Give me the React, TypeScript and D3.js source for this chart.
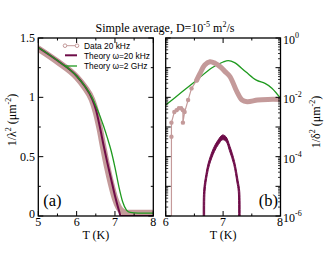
import React from 'react';
import * as d3 from 'd3';

// ---------- Panel (a): 1/lambda^2 vs T ----------
const aDataT = [5.0, 5.5, 6.0, 6.2, 6.4, 6.5, 6.6, 6.7, 6.8, 6.9, 7.0, 7.1, 7.2, 7.3, 8.0];
const aDataV = [1.41, 1.30, 1.17, 1.09, 0.98, 0.88, 0.74, 0.57, 0.41, 0.27, 0.15, 0.07, 0.035, 0.025, 0.025];

const aPurpleT = [5.0, 5.5, 6.0, 6.2, 6.4, 6.5, 6.6, 6.7, 6.8, 6.9, 7.0, 7.1, 7.15, 8.0];
const aPurpleV = [1.42, 1.31, 1.18, 1.10, 0.99, 0.90, 0.76, 0.60, 0.45, 0.31, 0.17, 0.05, 0.0, 0.0];

const aGreenT = [5.0, 5.5, 6.0, 6.2, 6.4, 6.5, 6.6, 6.7, 6.8, 6.9, 7.0, 7.1, 7.2, 7.3, 7.4, 7.6, 8.0];
const aGreenV = [1.42, 1.31, 1.18, 1.10, 1.0, 0.93, 0.85, 0.76, 0.66, 0.55, 0.41, 0.25, 0.12, 0.05, 0.03, 0.025, 0.025];

const aXTicks = [5, 6, 7, 8];
const aYTicks = [0, 0.5, 1, 1.5];
const aYTickLabels = ['0', '0.5', '1', '1.5'];

// ---------- Panel (b): 1/delta^2 vs T (log) ----------
const bSparseT = [6.10, 6.10, 6.10, 6.15, 6.19, 6.23, 6.27, 6.30, 6.30, 6.33, 6.39, 6.45, 6.54];
const bSparseV = [1e-7, 4.7e-4, 1.4e-3, 3.2e-3, 3.7e-3, 4.3e-3, 4.3e-3, 3.7e-3, 1.4e-3, 3.2e-3, 8.1e-3, 0.020, 0.038];

const bDenseT = [6.54, 6.60, 6.68, 6.77, 6.86, 6.95, 7.03, 7.12, 7.24, 7.33, 7.42, 7.6, 7.78, 8.0];
const bDenseV = [0.038, 0.065, 0.123, 0.158, 0.141, 0.107, 0.075, 0.050, 0.0155, 0.0081, 0.0071, 0.0081, 0.0085, 0.0085];

const bGreenT = [6.0, 6.27, 6.54, 6.8, 7.0, 7.09, 7.2, 7.4, 7.58, 7.73, 7.85, 8.0];
const bGreenV = [0.0055, 0.0145, 0.038, 0.098, 0.155, 0.174, 0.148, 0.071, 0.038, 0.0295, 0.0204, 0.0093];

const bArchOuterT = [6.66, 6.66, 6.70, 6.74, 6.83, 6.91, 6.99, 7.05, 7.12, 7.20, 7.26, 7.29, 7.29];
const bArchOuterV = [1e-7, 6.6e-6, 2.5e-5, 6.0e-5, 1.9e-4, 3.6e-4, 5.4e-4, 4.7e-4, 2.2e-4, 6.8e-5, 1.6e-5, 6.6e-6, 1e-7];
const bArchInnerT = [6.685, 6.685, 6.725, 6.765, 6.85, 6.92, 6.99, 7.05, 7.11, 7.185, 7.24, 7.265, 7.265];
const bArchInnerV = [1e-7, 6.6e-6, 2.5e-5, 5.5e-5, 1.5e-4, 2.6e-4, 3.7e-4, 3.3e-4, 1.6e-4, 5.5e-5, 1.4e-5, 6.6e-6, 1e-7];

const bXTicks = [6, 7, 8];
const bYLabelExps = [0, -2, -4, -6];

const legendLabels = ['Data 20 kHz', 'Theory \u03c9=20 kHz', 'Theory \u03c9=2 GHz'];

const PINK = '#c49a9a';
const PURPLE = '#6e0c48';
const GREEN = '#1f9a1f';
const serif: React.CSSProperties = { fontFamily: "'Liberation Serif', 'Times New Roman', Times, 'DejaVu Serif', serif" };
const sans: React.CSSProperties = { fontFamily: "'Liberation Sans', Arial, Helvetica, sans-serif" };

export default function App() {
  const top = 38, bottom = 216;
  const xa = d3.scaleLinear().domain([5, 8]).range([38.3, 153.3]);
  const ya = d3.scaleLinear().domain([0, 1.5]).range([bottom, top]);
  const xb = d3.scaleLinear().domain([6, 8]).range([165.7, 280.5]);
  const yb = d3.scaleLog().domain([1e-6, 1]).range([bottom, top]);

  const zip = (ts: number[], vs: number[]) => ts.map((t, i) => [t, vs[i]] as [number, number]);

  const lineA = d3.line<[number, number]>().x(d => xa(d[0])).y(d => ya(d[1])).curve(d3.curveMonotoneX);
  const lineB = d3.line<[number, number]>().x(d => xb(d[0])).y(d => yb(d[1])).curve(d3.curveCatmullRom.alpha(0.5));
  const lineBLin = d3.line<[number, number]>().x(d => xb(d[0])).y(d => yb(d[1]));

  const outer = lineB(zip(bArchOuterT, bArchOuterV)) || '';
  const inner = lineB(zip(bArchInnerT, bArchInnerV).reverse()) || '';
  const archPath = outer + 'L' + inner.slice(1) + 'Z';

  const aXMinor = d3.range(5, 8.01, 0.5);
  const aYMinor = d3.range(0, 1.51, 0.25);
  const bXMinor = d3.range(6, 8.01, 0.5);
  const bYMajor = d3.range(-6, 1).map(e => Math.pow(10, e));
  const bYMinor: number[] = [];
  for (let e = -6; e < 0; e++) for (let m = 2; m <= 9; m++) bYMinor.push(m * Math.pow(10, e));

  const tickLen = (major: boolean) => (major ? 5 : 2.5);
  const isInt = (v: number) => Math.abs(v - Math.round(v)) < 1e-6;
  const isHalf = (v: number) => Math.abs(v * 2 - Math.round(v * 2)) < 1e-6;

  return (
    <svg width={330} height={255} style={{ position: 'absolute', left: 0, top: 0, background: '#fff' }}>
      <defs>
        <clipPath id="clipA"><rect x={38.3} y={top} width={115} height={bottom - top} /></clipPath>
        <clipPath id="clipB"><rect x={165.7} y={top} width={114.8} height={bottom - top} /></clipPath>
      </defs>
      <rect x={0} y={0} width={330} height={255} fill="#fff" />

      <text x={165} y={31.5} textAnchor="middle" style={serif} fontSize={12}>
        Simple average, D=10<tspan dy={-5} fontSize={8}>-5</tspan><tspan dy={5}> m</tspan><tspan dy={-5} fontSize={8}>2</tspan><tspan dy={5}>/s</tspan>
      </text>

      {/* ----- Panel a ----- */}
      <g clipPath="url(#clipA)">
        <path d={lineA(zip(aDataT, aDataV)) || ''} fill="none" stroke={PINK} strokeWidth={6.5} strokeLinejoin="round" strokeLinecap="round" />
        <path d={lineA(zip(aPurpleT, aPurpleV)) || ''} fill="none" stroke={PURPLE} strokeWidth={2} />
        <path d={lineA(zip(aGreenT, aGreenV)) || ''} fill="none" stroke={GREEN} strokeWidth={1.3} />
      </g>
      {aXMinor.map((v, i) => {
        const L = tickLen(isInt(v));
        return (
          <g key={'axm' + i}>
            <line x1={xa(v)} x2={xa(v)} y1={bottom} y2={bottom - L} stroke="#000" strokeWidth={1} />
            <line x1={xa(v)} x2={xa(v)} y1={top} y2={top + L} stroke="#000" strokeWidth={1} />
          </g>
        );
      })}
      {aYMinor.map((v, i) => {
        const L = tickLen(isHalf(v));
        return (
          <g key={'aym' + i}>
            <line x1={38.3} x2={38.3 + L} y1={ya(v)} y2={ya(v)} stroke="#000" strokeWidth={1} />
            <line x1={153.3} x2={153.3 - L} y1={ya(v)} y2={ya(v)} stroke="#000" strokeWidth={1} />
          </g>
        );
      })}
      <rect x={38.3} y={top} width={115} height={bottom - top} fill="none" stroke="#000" strokeWidth={1.3} />
      {aXTicks.map(v => (
        <text key={'axl' + v} x={xa(v)} y={225.5} textAnchor="middle" style={serif} fontSize={12}>{v}</text>
      ))}
      {aYTicks.map((v, i) => (
        <text key={'ayl' + v} x={35} y={ya(v) + (v === 0 ? 2 : 4)} textAnchor="end" style={serif} fontSize={12}>{aYTickLabels[i]}</text>
      ))}
      <text x={95.8} y={239.3} textAnchor="middle" style={serif} fontSize={12}>T (K)</text>
      <text transform="translate(16,120) rotate(-90)" textAnchor="middle" style={serif} fontSize={12}>
        1/&#955;<tspan dy={-5} fontSize={8}>2</tspan><tspan dy={5}> (&#956;m</tspan><tspan dy={-5} fontSize={8}>-2</tspan><tspan dy={5}>)</tspan>
      </text>
      <text x={43.3} y={206} style={serif} fontSize={16.5}>(a)</text>

      <g>
        <line x1={65} x2={77} y1={45.7} y2={45.7} stroke={PINK} strokeWidth={1} />
        <circle cx={65} cy={45.7} r={1.8} fill="#fff" stroke={PINK} strokeWidth={1} />
        <circle cx={77} cy={45.7} r={1.8} fill="#fff" stroke={PINK} strokeWidth={1} />
        <line x1={65} x2={77} y1={55.3} y2={55.3} stroke={PURPLE} strokeWidth={2} />
        <line x1={65} x2={77} y1={66} y2={66} stroke={GREEN} strokeWidth={1.3} />
        {legendLabels.map((s, i) => (
          <text key={'lg' + i} x={84} y={48.5 + i * 10.4} style={sans} fontSize={8.4}>{s}</text>
        ))}
      </g>

      {/* ----- Panel b ----- */}
      <g clipPath="url(#clipB)">
        <path d={lineB(zip(bGreenT, bGreenV)) || ''} fill="none" stroke={GREEN} strokeWidth={1.3} />
        <path d={lineBLin(zip(bSparseT, bSparseV)) || ''} fill="none" stroke={PINK} strokeWidth={1.2} />
        {zip(bSparseT, bSparseV).slice(1).map((d, i) => (
          <circle key={'sp' + i} cx={xb(d[0])} cy={yb(d[1])} r={2.2} fill={PINK} />
        ))}
        <path d={lineB(zip(bDenseT, bDenseV)) || ''} fill="none" stroke={PINK} strokeWidth={5} strokeLinejoin="round" strokeLinecap="round" />
        <path d={archPath} fill={PURPLE} stroke={PURPLE} strokeWidth={1} />
      </g>
      {bXMinor.map((v, i) => {
        const L = tickLen(isInt(v));
        return (
          <g key={'bxm' + i}>
            <line x1={xb(v)} x2={xb(v)} y1={bottom} y2={bottom - L} stroke="#000" strokeWidth={1} />
            <line x1={xb(v)} x2={xb(v)} y1={top} y2={top + L} stroke="#000" strokeWidth={1} />
          </g>
        );
      })}
      {bYMajor.map((v, i) => (
        <g key={'bym' + i}>
          <line x1={165.7} x2={170.7} y1={yb(v)} y2={yb(v)} stroke="#000" strokeWidth={1} />
          <line x1={280.5} x2={275.5} y1={yb(v)} y2={yb(v)} stroke="#000" strokeWidth={1} />
        </g>
      ))}
      {bYMinor.map((v, i) => (
        <g key={'bymn' + i}>
          <line x1={165.7} x2={168.2} y1={yb(v)} y2={yb(v)} stroke="#000" strokeWidth={0.8} />
          <line x1={280.5} x2={278} y1={yb(v)} y2={yb(v)} stroke="#000" strokeWidth={0.8} />
        </g>
      ))}
      <rect x={165.7} y={top} width={114.8} height={bottom - top} fill="none" stroke="#000" strokeWidth={1.3} />
      {bXTicks.map(v => (
        <text key={'bxl' + v} x={xb(v)} y={225.5} textAnchor={v === 8 ? 'end' : 'middle'} dx={v === 8 ? 2.5 : 0} style={serif} fontSize={12}>{v}</text>
      ))}
      {bYLabelExps.map(e => (
        <text key={'byl' + e} x={283} y={yb(Math.pow(10, e)) + 6} style={serif} fontSize={12}>
          10<tspan dy={-6} fontSize={8}>{e}</tspan>
        </text>
      ))}
      <text x={223.1} y={239.3} textAnchor="middle" style={serif} fontSize={12}>T (K)</text>
      <text transform="translate(320,122) rotate(-90)" textAnchor="middle" style={serif} fontSize={12}>
        1/&#948;<tspan dy={-5} fontSize={8}>2</tspan><tspan dy={5}> (&#956;m</tspan><tspan dy={-5} fontSize={8}>-2</tspan><tspan dy={5}>)</tspan>
      </text>
      <text x={278} y={206} textAnchor="end" style={serif} fontSize={16.5}>(b)</text>
    </svg>
  );
}
